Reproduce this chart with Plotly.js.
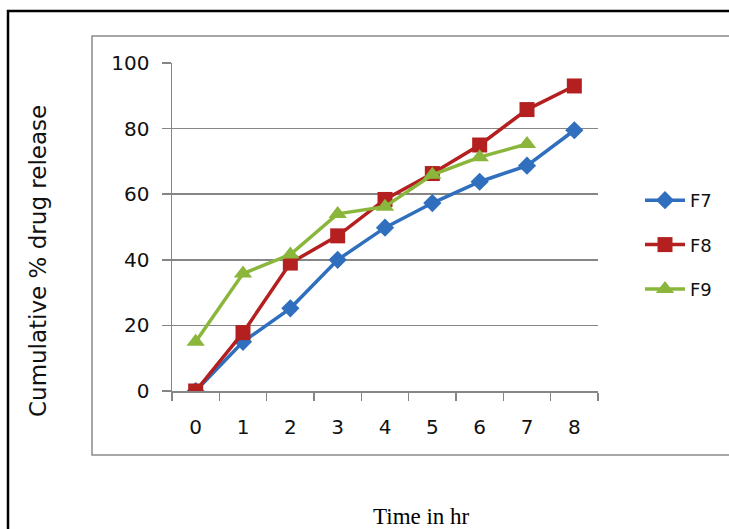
<!DOCTYPE html>
<html>
<head>
<meta charset="utf-8">
<script src="https://cdn.plot.ly/plotly-3.0.1.min.js"></script>
<style>html,body{margin:0;padding:0;background:#fff;}#chart{width:729px;height:529px;}</style>
</head>
<body>
<div id="chart"></div>
<script>
var timeHr = ["0", "1", "2", "3", "4", "5", "6", "7", "8"];
var f7 = [0, 15, 25.2, 40, 49.8, 57.3, 63.8, 68.7, 79.5];
var f8 = [0, 17.8, 39, 47.3, 58.4, 66.3, 75, 85.8, 93];
var f9 = [15, 35.8, 41.6, 54, 56.2, 65.9, 71.3, 75.3];
var seriesNames = ["F7", "F8", "F9"];
var yTicks = [0, 20, 40, 60, 80, 100];

var colors = ["#2f6fbe", "#b3201f", "#8ab63b"];
var symbols = ["diamond", "square", "triangle-up"];
var sizes = [14, 15, 16];
var data = [f7, f8, f9].map(function (vals, i) {
  return {
    type: "scatter",
    mode: "lines+markers",
    name: seriesNames[i],
    legendgroup: seriesNames[i],
    x: timeHr.slice(0, vals.length),
    y: vals,
    line: {color: colors[i], width: 3.5},
    marker: {symbol: symbols[i], size: sizes[i], color: colors[i]}
  };
});

// pixel -> paper helpers (plot area 172..598 x 63..391)
function px(x) { return (x - 172) / 426; }
function py(y) { return (391 - y) / 328; }

var layout = {
  width: 729, height: 529,
  margin: {l: 172, r: 131, t: 63, b: 138},
  paper_bgcolor: "#fff", plot_bgcolor: "#fff",
  font: {family: "DejaVu Sans, Verdana, sans-serif", color: "#111", size: 19},
  showlegend: true,
  legend: {
    x: px(640), y: py(182), xanchor: "left", yanchor: "top",
    font: {size: 18, family: "DejaVu Sans, sans-serif", color: "#111"},
    tracegroupgap: 18, itemwidth: 40, bgcolor: "rgba(0,0,0,0)"
  },
  xaxis: {
    type: "category",
    range: [-0.5, 8.5],
    tickson: "boundaries",
    ticks: "outside", ticklen: 8, tickwidth: 1.5, tickcolor: "#868686",
    showline: true, linecolor: "#868686", linewidth: 1.5,
    showgrid: false, zeroline: false,
    ticklabelstandoff: 17,
    tickfont: {size: 20}
  },
  yaxis: {
    range: [0, 100], tickvals: yTicks,
    ticks: "outside", ticklen: 9, tickwidth: 1.5, tickcolor: "#868686",
    showline: true, linecolor: "#868686", linewidth: 1.5,
    showgrid: true, gridcolor: "#868686", gridwidth: 1.5,
    zeroline: false, ticklabelstandoff: 8,
    tickfont: {size: 20}
  },
  shapes: [
    {type: "rect", xref: "paper", yref: "paper", x0: px(8), x1: px(760), y0: py(560), y1: py(11),
     line: {color: "#000", width: 2.5}, layer: "below"},
    {type: "rect", xref: "paper", yref: "paper", x0: px(92), x1: px(760), y0: py(455), y1: py(36),
     line: {color: "#8a8a8a", width: 1.5}, layer: "below"}
  ],
  annotations: [
    {text: "Cumulative % drug release", xref: "paper", yref: "paper", x: px(38), y: py(261),
     xanchor: "center", yanchor: "middle",
     textangle: -90, showarrow: false, font: {size: 23, family: "DejaVu Sans, sans-serif", color: "#111"}},
    {text: "Time in hr", xref: "paper", yref: "paper", x: px(421), y: py(516),
     xanchor: "center", yanchor: "middle",
     showarrow: false, font: {size: 23, family: "Liberation Serif, Times New Roman, serif", color: "#000"}}
  ]
};

Plotly.newPlot("chart", data, layout, {displayModeBar: false, staticPlot: true});
</script>
</body>
</html>
